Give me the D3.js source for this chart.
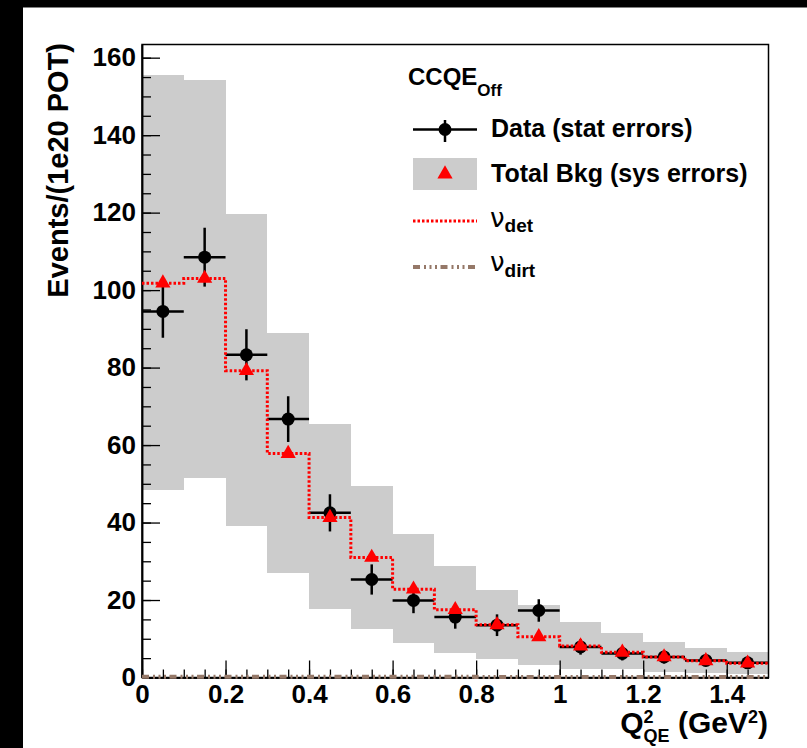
<!DOCTYPE html>
<html>
<head>
<meta charset="utf-8">
<script src="https://cdn.jsdelivr.net/npm/d3@7"></script>
<style>
  body { margin: 0; background: #000; }
  text { font-family: "Liberation Sans", Arial, sans-serif; font-weight: bold; fill: #000; }
</style>
</head>
<body>
<script>
// bins of Q2_QE (GeV^2)
var binLo = [0.0, 0.1, 0.2, 0.3, 0.4, 0.5, 0.6, 0.7, 0.8, 0.9, 1.0, 1.1, 1.2, 1.3, 1.4];
var binHi = [0.1, 0.2, 0.3, 0.4, 0.5, 0.6, 0.7, 0.8, 0.9, 1.0, 1.1, 1.2, 1.3, 1.4, 1.5];

// data with stat errors
var dataVals = [94.5, 108.5, 83.3, 66.7, 42.5, 25.3, 19.9, 15.6, 13.5, 17.3, 7.9, 6.2, 5.3, 4.4, 3.8];
var dataErr  = [6.8, 7.6, 6.6, 5.9, 4.8, 3.9, 3.3, 3.0, 2.8, 2.9, 2.0, 1.8, 1.7, 1.5, 1.4];

// total background and its sys band
var bkgVals = [101.8, 103.0, 79.2, 57.8, 41.3, 31.0, 22.8, 17.5, 13.6, 10.5, 8.1, 6.5, 5.3, 4.3, 3.7];
var sysHi   = [155.6, 154.2, 119.6, 89.0, 65.5, 49.4, 37.0, 28.7, 22.7, 18.6, 14.4, 11.4, 9.1, 7.7, 6.5];
var sysLo   = [48.3, 51.5, 39.0, 27.0, 17.8, 12.6, 8.8, 6.4, 4.9, 3.2, 2.3, 2.3, 1.5, 1.2, 0.8];

// dirt component (basically zero)
var dirtVals = [0.2, 0.2, 0.2, 0.2, 0.2, 0.2, 0.2, 0.2, 0.1, 0.1, 0.1, 0.1, 0.1, 0.1, 0.1];

var xTicks = [0, 0.2, 0.4, 0.6, 0.8, 1.0, 1.2, 1.4];
var xTickLabels = ["0", "0.2", "0.4", "0.6", "0.8", "1", "1.2", "1.4"];
var yTicks = [0, 20, 40, 60, 80, 100, 120, 140, 160];

var W = 807, H = 748;
var pLeft = 142, pRight = 768.5, pTop = 44.5, pBottom = 677.5;
var dirtColor = '#957868';
var dirtDash = '7,4,2,3.5,2,3.5,2,3.5';

var svg = d3.select('body').append('svg')
    .attr('width', W)
    .attr('height', H);

// black surround, white pad
svg.append('rect').attr('width', W).attr('height', H).attr('fill', '#000');
svg.append('rect').attr('x', 23).attr('y', 7.5).attr('width', W - 23).attr('height', H - 7.5).attr('fill', '#fff');

var xScale = d3.scaleLinear().domain([0, 1.5]).range([pLeft, pRight]);
var yScale = d3.scaleLinear().domain([0, 163.4]).range([pBottom, pTop]);

var idx = d3.range(binLo.length);

// sys error band
svg.append('g').selectAll('rect')
    .data(idx)
    .enter().append('rect')
    .attr('x', function (i) { return xScale(binLo[i]); })
    .attr('width', function (i) { return xScale(binHi[i]) - xScale(binLo[i]); })
    .attr('y', function (i) { return yScale(sysHi[i]); })
    .attr('height', function (i) { return yScale(sysLo[i]) - yScale(sysHi[i]); })
    .attr('fill', '#cccccc')
    .attr('shape-rendering', 'crispEdges');

// axes
var yMajor = d3.axisLeft(yScale).tickValues(yTicks).tickSize(-18).tickSizeOuter(0).tickPadding(6);
var yMinor = d3.axisLeft(yScale).tickValues(d3.range(0, 165, 5)).tickSize(-9).tickSizeOuter(0).tickFormat('');
var xMajor = d3.axisBottom(xScale).tickValues(xTicks).tickSize(-17).tickSizeOuter(0).tickPadding(7)
    .tickFormat(function (d, i) { return xTickLabels[i]; });
var xMinor = d3.axisBottom(xScale).tickValues(d3.range(0, 1.5, 0.05)).tickSize(-8).tickSizeOuter(0).tickFormat('');

function styleAxis(g) {
    g.selectAll('line').attr('stroke', '#000').attr('stroke-width', 1.3);
    g.select('.domain').attr('stroke', '#000').attr('stroke-width', 1.5);
    g.selectAll('text').style('font-size', '26px').style('font-family', '"Liberation Sans", Arial, sans-serif').style('font-weight', 'bold');
}

svg.append('g').attr('transform', 'translate(' + pLeft + ',0)').call(yMinor).call(styleAxis);
svg.append('g').attr('transform', 'translate(' + pLeft + ',0)').call(yMajor).call(styleAxis);
svg.append('g').attr('transform', 'translate(0,' + pBottom + ')').call(xMinor).call(styleAxis);
svg.append('g').attr('transform', 'translate(0,' + pBottom + ')').call(xMajor).call(styleAxis);

// frame
svg.append('rect')
    .attr('x', pLeft).attr('y', pTop)
    .attr('width', pRight - pLeft).attr('height', pBottom - pTop)
    .attr('fill', 'none').attr('stroke', '#000').attr('stroke-width', 1.5);

// data points
var pts = svg.append('g');
idx.forEach(function (i) {
    var cx = xScale((binLo[i] + binHi[i]) / 2);
    pts.append('line')
        .attr('x1', xScale(binLo[i])).attr('x2', xScale(binHi[i]))
        .attr('y1', yScale(dataVals[i])).attr('y2', yScale(dataVals[i]))
        .attr('stroke', '#000').attr('stroke-width', 2.5);
    pts.append('line')
        .attr('x1', cx).attr('x2', cx)
        .attr('y1', yScale(dataVals[i] + dataErr[i])).attr('y2', yScale(dataVals[i] - dataErr[i]))
        .attr('stroke', '#000').attr('stroke-width', 2.5);
    pts.append('circle')
        .attr('cx', cx).attr('cy', yScale(dataVals[i]))
        .attr('r', 6.5).attr('fill', '#000');
});

// step lines
function stepPoints(vals) {
    var p = [];
    idx.forEach(function (i) {
        p.push([binLo[i], vals[i]]);
        p.push([binHi[i], vals[i]]);
    });
    return p;
}
var stepLine = d3.line()
    .x(function (d) { return xScale(d[0]); })
    .y(function (d) { return yScale(d[1]); });

svg.append('path')
    .attr('d', stepLine(stepPoints(bkgVals)))
    .attr('fill', 'none').attr('stroke', '#ff0000').attr('stroke-width', 3)
    .attr('stroke-dasharray', '2.5,2');

svg.append('path')
    .attr('d', stepLine(stepPoints(dirtVals)))
    .attr('fill', 'none').attr('stroke', dirtColor).attr('stroke-width', 4)
    .attr('stroke-dasharray', dirtDash);

// background triangles
var tri = d3.symbol().type(d3.symbolTriangle).size(100);
svg.append('g').selectAll('path')
    .data(idx)
    .enter().append('path')
    .attr('d', tri)
    .attr('transform', function (i) {
        return 'translate(' + xScale((binLo[i] + binHi[i]) / 2) + ',' + yScale(bkgVals[i]) + ')';
    })
    .attr('fill', '#ff0000');

// axis titles
svg.append('text')
    .attr('transform', 'translate(68,43) rotate(-90)')
    .attr('text-anchor', 'end')
    .style('font-size', '29px')
    .text('Events/(1e20 POT)');

var xt = svg.append('text')
    .attr('x', 768).attr('y', 733)
    .attr('text-anchor', 'end')
    .style('font-size', '30px');
xt.append('tspan').text('Q');
xt.append('tspan').attr('dy', -10).style('font-size', '18px').text('2');
xt.append('tspan').attr('dx', -10).attr('dy', 19).style('font-size', '18px').text('QE');
xt.append('tspan').attr('dy', -9).text(' (GeV');
xt.append('tspan').attr('dy', -10).style('font-size', '18px').text('2');
xt.append('tspan').attr('dy', 10).text(')');

// legend
var lg = svg.append('g');
var lt = lg.append('text').attr('x', 408).attr('y', 85).style('font-size', '24px');
lt.append('tspan').text('CCQE');
lt.append('tspan').attr('dy', 11).style('font-size', '17px').text('Off');

// data entry
lg.append('line').attr('x1', 413).attr('x2', 477).attr('y1', 129.5).attr('y2', 129.5)
    .attr('stroke', '#000').attr('stroke-width', 2.5);
lg.append('line').attr('x1', 445).attr('x2', 445).attr('y1', 120).attr('y2', 142)
    .attr('stroke', '#000').attr('stroke-width', 2.5);
lg.append('circle').attr('cx', 445).attr('cy', 129.5).attr('r', 6.5).attr('fill', '#000');
lg.append('text').attr('x', 491).attr('y', 137).style('font-size', '25px').text('Data (stat errors)');

// bkg entry
lg.append('rect').attr('x', 413).attr('y', 158).attr('width', 64).attr('height', 32).attr('fill', '#cccccc');
lg.append('path').attr('d', tri).attr('transform', 'translate(445,174)').attr('fill', '#ff0000');
lg.append('text').attr('x', 491).attr('y', 182).style('font-size', '25px').text('Total Bkg (sys errors)');

// nu_det
lg.append('line').attr('x1', 413).attr('x2', 477).attr('y1', 221).attr('y2', 221)
    .attr('stroke', '#ff0000').attr('stroke-width', 3).attr('stroke-dasharray', '2.5,2');
var nd = lg.append('text').attr('x', 490).attr('y', 227);
nd.append('tspan').style('font-family', '"DejaVu Sans", sans-serif').style('font-weight', 'normal').style('font-size', '26px').text('ν');
nd.append('tspan').attr('dy', 5).style('font-size', '19px').text('det');

// nu_dirt
lg.append('line').attr('x1', 413).attr('x2', 477).attr('y1', 267).attr('y2', 267)
    .attr('stroke', dirtColor).attr('stroke-width', 4).attr('stroke-dasharray', dirtDash);
var ndi = lg.append('text').attr('x', 490).attr('y', 271);
ndi.append('tspan').style('font-family', '"DejaVu Sans", sans-serif').style('font-weight', 'normal').style('font-size', '26px').text('ν');
ndi.append('tspan').attr('dy', 6).style('font-size', '19px').text('dirt');
</script>
</body>
</html>
